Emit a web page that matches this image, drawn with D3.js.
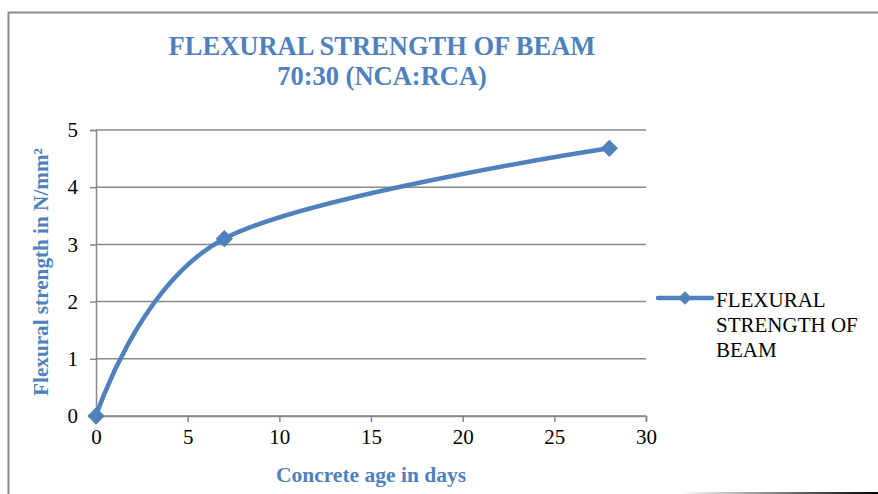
<!DOCTYPE html>
<html>
<head>
<meta charset="utf-8">
<script src="https://cdn.jsdelivr.net/npm/d3@7"></script>
<style>
  body { margin: 0; background: #fff; }
  svg { display: block; }
</style>
</head>
<body>
<div id="chart"></div>
<script>
// chart data
const ages = [0, 7, 28];
const strengths = [0, 3.1, 4.68];
const xTicks = [0, 5, 10, 15, 20, 25, 30];
const yTicks = [0, 1, 2, 3, 4, 5];
const titleLines = ['FLEXURAL STRENGTH OF BEAM', '70:30 (NCA:RCA)'];
const legendLines = ['FLEXURAL', 'STRENGTH OF', 'BEAM'];

const width = 878, height = 494;
const blue = '#4f81bd';
const gray = '#888888';
const font = '"Liberation Serif", "Times New Roman", serif';

const svg = d3.select('#chart')
    .append('svg')
    .attr('width', width)
    .attr('height', height);

// outer frame
svg.append('path')
    .attr('d', 'M8.5,' + height + 'V12.5H' + width)
    .attr('fill', 'none')
    .attr('stroke', '#8c8c8c')
    .attr('stroke-width', 2);

const grad = svg.append('defs').append('linearGradient')
    .attr('id', 'shade');
grad.append('stop').attr('offset', '0%').attr('stop-color', '#fff');
grad.append('stop').attr('offset', '100%').attr('stop-color', '#000');
svg.append('rect')
    .attr('x', 680).attr('y', 492)
    .attr('width', width - 680).attr('height', 2)
    .attr('fill', 'url(#shade)');

const x = d3.scaleLinear().domain([0, 30]).range([96, 646]);
const y = d3.scaleLinear().domain([0, 5]).range([416, 130]);

// gridlines
svg.append('g')
    .selectAll('line')
    .data(yTicks)
    .join('line')
    .attr('x1', x(0)).attr('x2', x(30))
    .attr('y1', d => y(d)).attr('y2', d => y(d))
    .attr('stroke', gray)
    .attr('stroke-width', 1.5);

// axes
const xAxis = svg.append('g')
    .attr('transform', `translate(0,${y(0)})`)
    .call(d3.axisBottom(x).tickValues(xTicks).tickFormat(d3.format('d')).tickSize(6).tickPadding(7));
const yAxis = svg.append('g')
    .attr('transform', `translate(${x(0)},0)`)
    .call(d3.axisLeft(y).tickValues(yTicks).tickFormat(d3.format('d')).tickSize(6).tickPadding(12));

[xAxis, yAxis].forEach(g => {
    g.select('.domain').attr('stroke', gray).attr('stroke-width', 1.5);
    g.selectAll('.tick line').attr('stroke', gray).attr('stroke-width', 1.5);
    g.selectAll('.tick text')
        .attr('fill', '#000')
        .style('font-family', font)
        .style('font-size', '21px');
});

// smoothed series line
const line = d3.line()
    .x((d, i) => x(ages[i]))
    .y(d => y(d))
    .curve(d3.curveCardinal.tension(0));

svg.append('path')
    .datum(strengths)
    .attr('d', line)
    .attr('fill', 'none')
    .attr('stroke', blue)
    .attr('stroke-width', 4.5)
    .attr('stroke-linecap', 'round');

const diamond = d3.symbol().type(d3.symbolSquare).size(150);
svg.append('g')
    .selectAll('path')
    .data(strengths)
    .join('path')
    .attr('d', diamond)
    .attr('transform', (d, i) => `translate(${x(ages[i])},${y(d)}) rotate(45)`)
    .attr('fill', blue);

// title
svg.append('text')
    .attr('x', 382)
    .attr('y', 55)
    .attr('text-anchor', 'middle')
    .attr('fill', blue)
    .style('font-family', font)
    .style('font-weight', 'bold')
    .style('font-size', '26.5px')
    .selectAll('tspan')
    .data(titleLines)
    .join('tspan')
    .attr('x', 382)
    .attr('dy', (d, i) => i === 0 ? 0 : 30)
    .text(d => d);

// axis titles
svg.append('text')
    .attr('x', 371)
    .attr('y', 482)
    .attr('text-anchor', 'middle')
    .attr('fill', blue)
    .style('font-family', font)
    .style('font-weight', 'bold')
    .style('font-size', '21.5px')
    .text('Concrete age in days');

svg.append('text')
    .attr('transform', 'translate(48,272) rotate(-90)')
    .attr('text-anchor', 'middle')
    .attr('fill', blue)
    .style('font-family', font)
    .style('font-weight', 'bold')
    .style('font-size', '21.2px')
    .text('Flexural strength in N/mm²');

// legend
const legend = svg.append('g').attr('transform', 'translate(658,298)');
legend.append('line')
    .attr('x1', 0).attr('x2', 54)
    .attr('stroke', blue)
    .attr('stroke-width', 4.5)
    .attr('stroke-linecap', 'round');
legend.append('path')
    .attr('d', d3.symbol().type(d3.symbolSquare).size(90))
    .attr('transform', 'translate(27,0) rotate(45)')
    .attr('fill', blue);
legend.append('text')
    .attr('x', 58)
    .attr('y', 9)
    .attr('fill', '#000')
    .style('font-family', font)
    .style('font-size', '21px')
    .selectAll('tspan')
    .data(legendLines)
    .join('tspan')
    .attr('x', 58)
    .attr('dy', (d, i) => i === 0 ? 0 : 25)
    .text(d => d);
</script>
</body>
</html>
